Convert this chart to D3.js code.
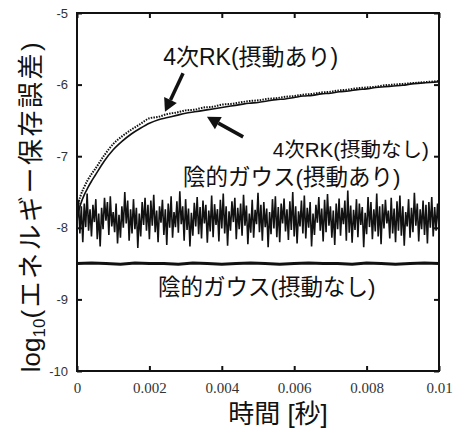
<!DOCTYPE html>
<html lang="ja">
<head>
<meta charset="UTF-8">
<title>エネルギー保存誤差</title>
<script src="https://d3js.org/d3.v7.min.js"></script>
<style>
  html, body { margin: 0; background: #fff; }
  svg { display: block; }
  .tick-y text { font-family: "Liberation Sans", Arial, sans-serif; font-size: 13px; fill: #333; }
  .tick-x text { font-family: "Liberation Serif", "Times New Roman", serif; font-size: 15px; fill: #333; }
  .title, .note { font-family: "Liberation Sans", Arial, "Noto Sans CJK JP", sans-serif; fill: #111; }
</style>
</head>
<body>
<svg id="chart" width="460" height="430"></svg>
<script>
// ---- data ----
const xTicks = [0, 0.002, 0.004, 0.006, 0.008, 0.01];
const xTickLabels = ["0", "0.002", "0.004", "0.006", "0.008", "0.01"];
const yTicks = [-10, -9, -8, -7, -6, -5];
const yTickLabels = ["-10", "-9", "-8", "-7", "-6", "-5"];

// time grid for the RK curves [s]
const rkT = [0, 0.00005, 0.0001, 0.0002, 0.0003, 0.0004, 0.0005, 0.00075, 0.001, 0.00125,
  0.0015, 0.00175, 0.002, 0.00225, 0.0025, 0.00275, 0.003, 0.00325, 0.0035, 0.00375,
  0.004, 0.00425, 0.0045, 0.00475, 0.005, 0.00525, 0.0055, 0.00575, 0.006, 0.00625,
  0.0065, 0.00675, 0.007, 0.00725, 0.0075, 0.00775, 0.008, 0.00825, 0.0085, 0.00875,
  0.009, 0.00925, 0.0095, 0.00975, 0.01];
// 4次RK(摂動なし)
const rkNoPert = [-7.88, -7.76, -7.67, -7.54, -7.44, -7.35, -7.27, -7.07, -6.91, -6.79,
  -6.69, -6.61, -6.54, -6.49, -6.46, -6.43, -6.40, -6.38, -6.36, -6.34,
  -6.32, -6.30, -6.28, -6.26, -6.25, -6.23, -6.21, -6.20, -6.18, -6.16,
  -6.15, -6.13, -6.12, -6.10, -6.09, -6.07, -6.06, -6.04, -6.03, -6.02,
  -6.01, -5.99, -5.98, -5.97, -5.96];
// 4次RK(摂動あり)
const rkPert = [-7.82, -7.64, -7.55, -7.43, -7.33, -7.25, -7.18, -6.99, -6.83, -6.72,
  -6.63, -6.55, -6.47, -6.45, -6.41, -6.39, -6.36, -6.35, -6.32, -6.31,
  -6.28, -6.27, -6.25, -6.23, -6.22, -6.20, -6.19, -6.17, -6.16, -6.14,
  -6.13, -6.11, -6.10, -6.08, -6.07, -6.05, -6.04, -6.03, -6.01, -6.00,
  -5.99, -5.98, -5.97, -5.96, -5.95];

// 陰的ガウス(摂動あり): samples every 0.04 ms
const gaussStep = 0.00004;
const gaussPert = [
  -7.95, -7.62, -8.08, -7.70, -8.20, -7.66, -7.99, -7.52, -8.04, -7.74,
  -8.12, -7.68, -7.92, -7.60, -8.16, -7.80, -8.26, -7.72, -8.02, -7.58,
  -7.90, -7.64, -8.10, -7.56, -7.98, -7.78, -8.06, -7.66, -8.22, -7.82,
  -8.14, -7.70, -8.00, -7.50, -7.94, -7.62, -8.18, -7.74, -8.08, -7.60,
  -8.02, -7.72, -8.28, -7.80, -8.12, -7.64, -7.96, -7.58, -8.04, -7.68,
  -8.16, -7.62, -7.97, -7.54, -8.06, -7.76, -8.20, -7.70, -7.93, -7.61,
  -8.10, -7.74, -8.24, -7.66, -8.00, -7.56, -8.14, -7.78, -7.99, -7.63,
  -8.07, -7.49, -7.95, -7.70, -8.18, -7.60, -8.03, -7.73, -8.26, -7.79,
  -8.11, -7.65, -7.98, -7.57, -8.09, -7.71, -8.15, -7.62, -7.94, -7.68,
  -8.21, -7.76, -8.05, -7.55, -8.13, -7.67, -7.96, -7.74, -8.19, -7.61,
  -8.01, -7.52, -8.08, -7.70, -8.25, -7.77, -8.04, -7.63, -7.92, -7.58,
  -8.16, -7.72, -8.02, -7.66, -8.11, -7.54, -7.97, -7.69, -8.23, -7.80,
  -8.07, -7.61, -8.14, -7.75, -7.95, -7.51, -8.06, -7.68, -8.18, -7.64,
  -7.99, -7.73, -8.27, -7.78, -8.09, -7.60, -8.01, -7.56, -8.13, -7.71,
  -8.20, -7.66, -7.94, -7.59, -8.05, -7.74, -8.17, -7.63, -8.03, -7.50,
  -8.12, -7.70, -8.22, -7.77, -7.98, -7.62, -8.08, -7.55, -8.15, -7.72,
  -8.00, -7.64, -8.26, -7.80, -8.10, -7.68, -7.93, -7.57, -8.04, -7.73,
  -8.19, -7.61, -8.06, -7.53, -7.97, -7.70, -8.14, -7.76, -8.24, -7.66,
  -8.02, -7.59, -8.11, -7.72, -7.95, -7.62, -8.18, -7.48, -8.07, -7.69,
  -8.21, -7.75, -8.03, -7.60, -8.13, -7.66, -7.96, -7.71, -8.27, -7.79,
  -8.09, -7.57, -7.99, -7.64, -8.16, -7.74, -8.05, -7.52, -8.12, -7.70,
  -8.23, -7.67, -8.01, -7.61, -7.94, -7.76, -8.15, -7.58, -8.08, -7.73,
  -8.20, -7.63, -8.04, -7.55, -8.11, -7.70, -8.25, -7.78, -7.98, -7.60,
  -8.14, -7.72, -8.06, -7.51, -7.97, -7.66, -8.19, -7.74, -8.02, -7.62,
  -8.10, -7.68, -8.22, -7.64, -8.00, -7.57, -8.12, -7.71, -8.04, -7.66,
  -8.00];

// 陰的ガウス(摂動なし): samples every 0.4 ms
const gaussFlatStep = 0.0004;
const gaussNoPert = [-8.50, -8.49, -8.50, -8.51, -8.49, -8.50, -8.50, -8.51, -8.49, -8.50,
  -8.51, -8.50, -8.49, -8.50, -8.51, -8.50, -8.49, -8.50, -8.50, -8.51,
  -8.49, -8.50, -8.51, -8.50, -8.49, -8.50];

// annotations: [label, t, log10 value at baseline-left]
const notes = [
  ["4次RK(摂動あり)", 0.00238, -5.73],
  ["4次RK(摂動なし)", 0.00541, -7.01],
  ["陰的ガウス(摂動あり)", 0.00293, -7.40],
  ["陰的ガウス(摂動なし)", 0.00224, -8.94]
];
const noteSizes = [23, 20.5, 22.5, 22.5];
// arrows: [tail t, tail v, head t, head v]
const arrows = [
  [0.00293, -5.84, 0.00243, -6.38],
  [0.00459, -6.73, 0.00359, -6.45]
];

// ---- layout ----
const W = 460, H = 430;
const margin = { top: 13, right: 21, bottom: 59, left: 77 };
const svg = d3.select("#chart");

const x = d3.scaleLinear().domain([0, 0.01]).range([margin.left, W - margin.right]);
const y = d3.scaleLinear().domain([-10, -5]).range([H - margin.bottom, margin.top]);

const line = d3.line().x(d => x(d[0])).y(d => y(d[1]));

// curves
const gaussFlatPts = gaussNoPert.map((v, i) => [Math.min(i * gaussFlatStep, 0.01), v]);
svg.append("path").attr("d", line(gaussFlatPts))
  .attr("fill", "none").attr("stroke", "#111").attr("stroke-width", 3);

const gaussPts = gaussPert.map((v, i) => [Math.min(i * gaussStep, 0.01), v]);
svg.append("path").attr("d", line(gaussPts))
  .attr("fill", "none").attr("stroke", "#111").attr("stroke-width", 1.6)
  .attr("stroke-linejoin", "bevel");

const curve = d3.line().x(d => x(d[0])).y(d => y(d[1])).curve(d3.curveMonotoneX);
svg.append("path").attr("d", curve(rkT.map((t, i) => [t, rkNoPert[i]])))
  .attr("fill", "none").attr("stroke", "#111").attr("stroke-width", 1.6);
svg.append("path").attr("d", curve(rkT.map((t, i) => [t, rkPert[i]])))
  .attr("fill", "none").attr("stroke", "#111").attr("stroke-width", 2)
  .attr("stroke-dasharray", "1.5,1.2");

// axes: inward ticks on all four sides
const xAxisB = d3.axisBottom(x).tickValues(xTicks).tickSizeInner(-5).tickSizeOuter(0)
  .tickFormat((d, i) => xTickLabels[i]);
const gxb = svg.append("g").attr("class", "tick-x")
  .attr("transform", `translate(0,${H - margin.bottom})`).call(xAxisB);
gxb.selectAll("text").attr("y", 22).attr("dy", null);

const xAxisT = d3.axisTop(x).tickValues(xTicks).tickSizeInner(-5).tickSizeOuter(0).tickFormat("");
svg.append("g").attr("transform", `translate(0,${margin.top})`).call(xAxisT);

const yAxisL = d3.axisLeft(y).tickValues(yTicks).tickSizeInner(-5).tickSizeOuter(0)
  .tickFormat((d, i) => yTickLabels[i]);
const gyl = svg.append("g").attr("class", "tick-y")
  .attr("transform", `translate(${margin.left},0)`).call(yAxisL);
gyl.selectAll("text").attr("x", -9).attr("text-anchor", "end");

const yAxisR = d3.axisRight(y).tickValues(yTicks).tickSizeInner(-5).tickSizeOuter(0).tickFormat("");
svg.append("g").attr("transform", `translate(${W - margin.right},0)`).call(yAxisR);

svg.selectAll(".domain").remove();
svg.selectAll(".tick line").attr("stroke", "#111").attr("stroke-width", 2);

// frame
svg.append("rect")
  .attr("x", x(0)).attr("y", y(-5))
  .attr("width", x(0.01) - x(0)).attr("height", y(-10) - y(-5))
  .attr("fill", "none").attr("stroke", "#111").attr("stroke-width", 2);

// annotations
svg.selectAll(".note").data(notes).enter().append("text")
  .attr("class", "note")
  .attr("x", d => x(d[1])).attr("y", d => y(d[2]))
  .attr("font-size", (d, i) => noteSizes[i])
  .text(d => d[0]);

arrows.forEach(a => {
  const x1 = x(a[0]), y1 = y(a[1]), x2 = x(a[2]), y2 = y(a[3]);
  const ang = Math.atan2(y2 - y1, x2 - x1);
  const hl = 13, hw = 7;
  const bx = x2 - hl * Math.cos(ang), by = y2 - hl * Math.sin(ang);
  svg.append("line").attr("x1", x1).attr("y1", y1).attr("x2", bx).attr("y2", by)
    .attr("stroke", "#111").attr("stroke-width", 3.5);
  const px = -Math.sin(ang) * hw, py = Math.cos(ang) * hw;
  svg.append("path")
    .attr("d", `M${x2},${y2}L${bx + px},${by + py}L${bx - px},${by - py}Z`)
    .attr("fill", "#111");
});

// axis titles
svg.append("text").attr("class", "title")
  .attr("x", 278).attr("y", 423)
  .attr("text-anchor", "middle").attr("font-size", 26)
  .text("時間 [秒]");

const yt = svg.append("text").attr("class", "title")
  .attr("transform", "translate(40,206) rotate(-90)")
  .attr("text-anchor", "middle").attr("font-size", 26);
yt.append("tspan").text("log");
yt.append("tspan").attr("font-size", 17).attr("dy", 5).text("10");
yt.append("tspan").attr("dy", -5).attr("letter-spacing", 2.5).text("(エネルギー保存誤差)");
</script>
</body>
</html>
